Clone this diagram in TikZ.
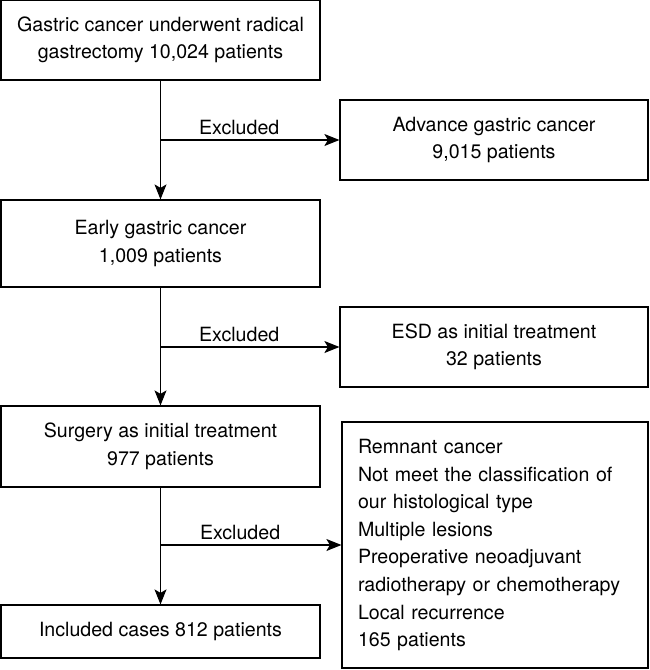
\documentclass[tikz,border=0pt]{standalone}
\usepackage{fontspec}
\setmainfont{TeX Gyre Heros}
\usetikzlibrary{arrows.meta}
\pgfkeys{tikz/flowenv/.style={x=1pt,y=-1pt,line width=1.2pt,font=\fontsize{19.6}{27.6}\selectfont}}
\pgfkeys{tikz/flowbox/.style={draw,align=center,inner sep=0pt}}
\pgfkeys{tikz/flowarrow/.style={-{Stealth[length=15pt,width=12pt,inset=3.5pt]}}}
\newcommand*\flowexcluded[3]{
    \coordinate (#3) at (#1.south |- #2.west);
    \draw[flowarrow] (#3) -- node[above=1pt,pos=0.44] {Excluded} (#2.west);
}

\begin{document}
\begin{tikzpicture}[flowenv]
    \useasboundingbox (0,0) rectangle (649,670);
    \node[flowbox,minimum width=319pt,minimum height=80pt] (gastrect) at (160.5,40)
        {Gastric cancer underwent radical\\gastrectomy 10,024 patients};
    \node[flowbox,minimum width=308pt,minimum height=80pt] (advance) at (494,140)
        {Advance gastric cancer\\9,015 patients};
    \node[flowbox,minimum width=319pt,minimum height=87pt] (early) at (160.5,243.5)
        {Early gastric cancer\\1,009 patients};
    \node[flowbox,minimum width=308pt,minimum height=80pt] (esd) at (494,347)
        {ESD as initial treatment\\32 patients};
    \node[flowbox,minimum width=319pt,minimum height=81pt] (surgery) at (160.5,446.5)
        {Surgery as initial treatment\\977 patients};
    \node[flowbox,align=left,text width=274pt,minimum width=306pt,minimum height=246pt] (other) at (495,545)
        {Remnant cancer\\Not meet the classification of\\our histological type\\Multiple lesions\\Preoperative neoadjuvant\\radiotherapy or chemotherapy\\Local recurrence\\165 patients};
    \node[flowbox,minimum width=319pt,minimum height=53pt] (included) at (160.5,631.5)
        {Included cases 812 patients};
    \draw[flowarrow] (gastrect) -- (early);
    \draw[flowarrow] (early) -- (surgery);
    \draw[flowarrow] (surgery) -- (included);
    \flowexcluded{gastrect}{advance}{b1}
    \flowexcluded{early}{esd}{b2}
    \flowexcluded{surgery}{other}{b3}
\end{tikzpicture}
\end{document}
